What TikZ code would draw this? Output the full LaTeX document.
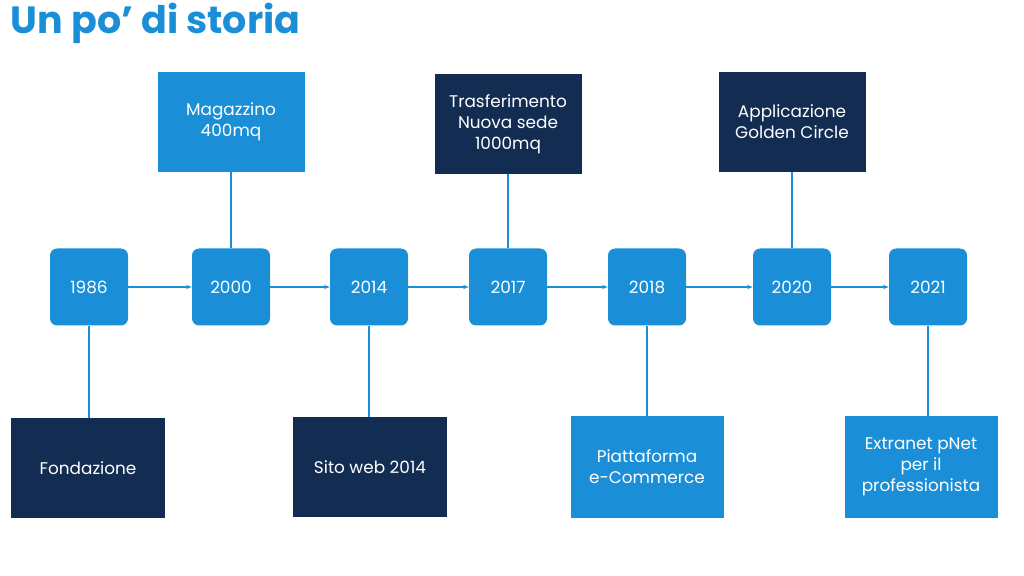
\documentclass[tikz,border=0pt]{standalone}
\usepackage{fontspec}
\setmainfont{Poppins}
\usetikzlibrary{arrows.meta}
\definecolor{lb}{HTML}{1A8FD8}
\definecolor{db}{HTML}{132D52}
\begin{document}
\begin{tikzpicture}[x=0.025cm,y=-0.025cm,
 year/.style={fill=lb,rounded corners=5pt,minimum width=78*0.025cm,minimum height=77*0.025cm,text=white,font=\fontsize{12}{14}\selectfont},
 card/.style={fill=#1,minimum width=147*0.025cm,minimum height=100*0.025cm,text=white,align=center,font=\fontsize{12}{15}\selectfont},
 link/.style={lb,line width=1.2pt},
 arr/.style={lb,line width=1pt,-{Stealth[length=4pt]}}]
\useasboundingbox (0,0) rectangle (1024,576);
\node[anchor=west,text=lb,font=\fontsize{27}{30}\selectfont\bfseries] (title) at (6,23) {Un po’ di storia};
\node[year] (y1) at (89,287) {1986};
\node[year] (y2) at (231,287) {2000};
\node[year] (y3) at (369,287) {2014};
\node[year] (y4) at (508,287) {2017};
\node[year] (y5) at (647,287) {2018};
\node[year] (y6) at (792,287) {2020};
\node[year] (y7) at (928,287) {2021};
\node[card=lb] (m) at (231,122) {Magazzino\\400mq};
\node[card=db] (t) at (508,124) {Trasferimento\\Nuova sede\\1000mq};
\node[card=db] (a) at (792,122) {Applicazione\\Golden Circle};
\node[card=db,minimum width=154*0.025cm] (f) at (88,468) {Fondazione};
\node[card=db,minimum width=154*0.025cm] (s) at (370,467) {Sito web 2014};
\node[card=lb,minimum width=153*0.025cm,minimum height=102*0.025cm] (p) at (647,467) {Piattaforma\\e-Commerce};
\node[card=lb,minimum width=153*0.025cm,minimum height=102*0.025cm] (e) at (921,467) {Extranet pNet\\per il\\professionista};
\foreach \a/\b in {y1/y2,y2/y3,y3/y4,y4/y5,y5/y6,y6/y7} \draw[arr] (\a) -- (\b);
\draw[link] (m) -- (y2); \draw[link] (t) -- (y4); \draw[link] (a) -- (y6);
\draw[link] (y1) -- (y1|-f.north); \draw[link] (y3) -- (y3|-s.north);
\draw[link] (y5) -- (y5|-p.north); \draw[link] (y7) -- (y7|-e.north);
\end{tikzpicture}
\end{document}
